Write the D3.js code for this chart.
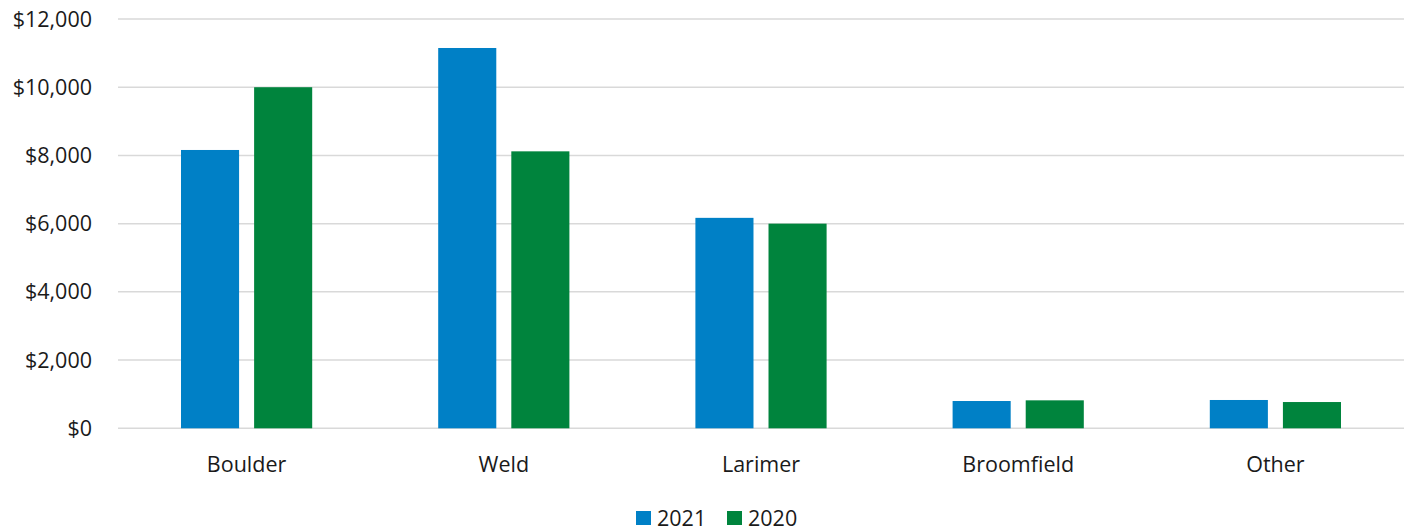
<!DOCTYPE html>
<html lang="en">
<head>
    <meta charset="UTF-8">
    <title>County totals 2021 vs 2020</title>
    <script src="https://d3js.org/d3.v7.min.js"></script>
    <style>
        body { margin: 0; background: #fff; }
        text { font-family: "Open Sans", "Noto Sans", sans-serif; fill: #1a1a1a; }
    </style>
</head>
<body>
</body>
<script>
    const categories = ["Boulder", "Weld", "Larimer", "Broomfield", "Other"];
    const series = ["2021", "2020"];
    const values2021 = [8160, 11150, 6170, 800, 830];
    const values2020 = [10000, 8120, 6000, 820, 770];
    const yTicks = [0, 2000, 4000, 6000, 8000, 10000, 12000];
    const colors = ["#0080c6", "#00843d"];

    const WIDTH = 1405, HEIGHT = 531;
    const plotL = 118, plotR = 1404, plotT = 19, plotB = 428.3;
    const FS = "21.5px";

    let svg = d3.select("body").append("svg").attr("width", WIDTH).attr("height", HEIGHT);

    let y = d3.scaleLinear().domain([0, 12000]).range([plotB, plotT]);
    let x0 = d3.scaleBand().domain(categories).range([plotL, plotR]).padding(0);
    let inner = 63;
    let x1 = d3.scaleBand().domain(series).range([inner, x0.bandwidth() - inner]).paddingInner(15 / 73).paddingOuter(0);

    // gridlines
    svg.append("g").selectAll("line").data(yTicks).join("line")
        .attr("x1", plotL).attr("x2", plotR)
        .attr("y1", d => y(d)).attr("y2", d => y(d))
        .attr("stroke", "#d9d9d9").attr("stroke-width", 1.5);

    // y labels
    let fmt = d3.format(",");
    svg.append("g").selectAll("text").data(yTicks).join("text")
        .attr("x", 92).attr("y", d => y(d))
        .attr("dy", "0.35em")
        .attr("text-anchor", "end")
        .style("font-size", FS)
        .text(d => "$" + fmt(d));

    let rows = categories.map((c, i) => ({cat: c, vals: [values2021[i], values2020[i]]}));

    let groups = svg.append("g").selectAll("g").data(rows).join("g")
        .attr("transform", d => `translate(${x0(d.cat)},0)`);

    groups.selectAll("rect").data(d => d.vals.map((v, k) => ({s: series[k], v: v, k: k}))).join("rect")
        .attr("x", d => x1(d.s))
        .attr("width", x1.bandwidth())
        .attr("y", d => y(d.v))
        .attr("height", d => y(0) - y(d.v))
        .attr("fill", d => colors[d.k]);

    // category labels
    svg.append("g").selectAll("text").data(categories).join("text")
        .attr("x", d => x0(d) + x0.bandwidth() / 2)
        .attr("y", 472)
        .attr("text-anchor", "middle")
        .style("font-size", FS)
        .text(d => d);

    // legend
    let legend = svg.append("g");
    let lx = [636, 727];
    series.forEach((s, i) => {
        legend.append("rect").attr("x", lx[i]).attr("y", 511).attr("width", 15).attr("height", 14).attr("fill", colors[i]);
        legend.append("text").attr("x", lx[i] + 21).attr("y", 526).style("font-size", FS).text(s);
    });
</script>
</html>
